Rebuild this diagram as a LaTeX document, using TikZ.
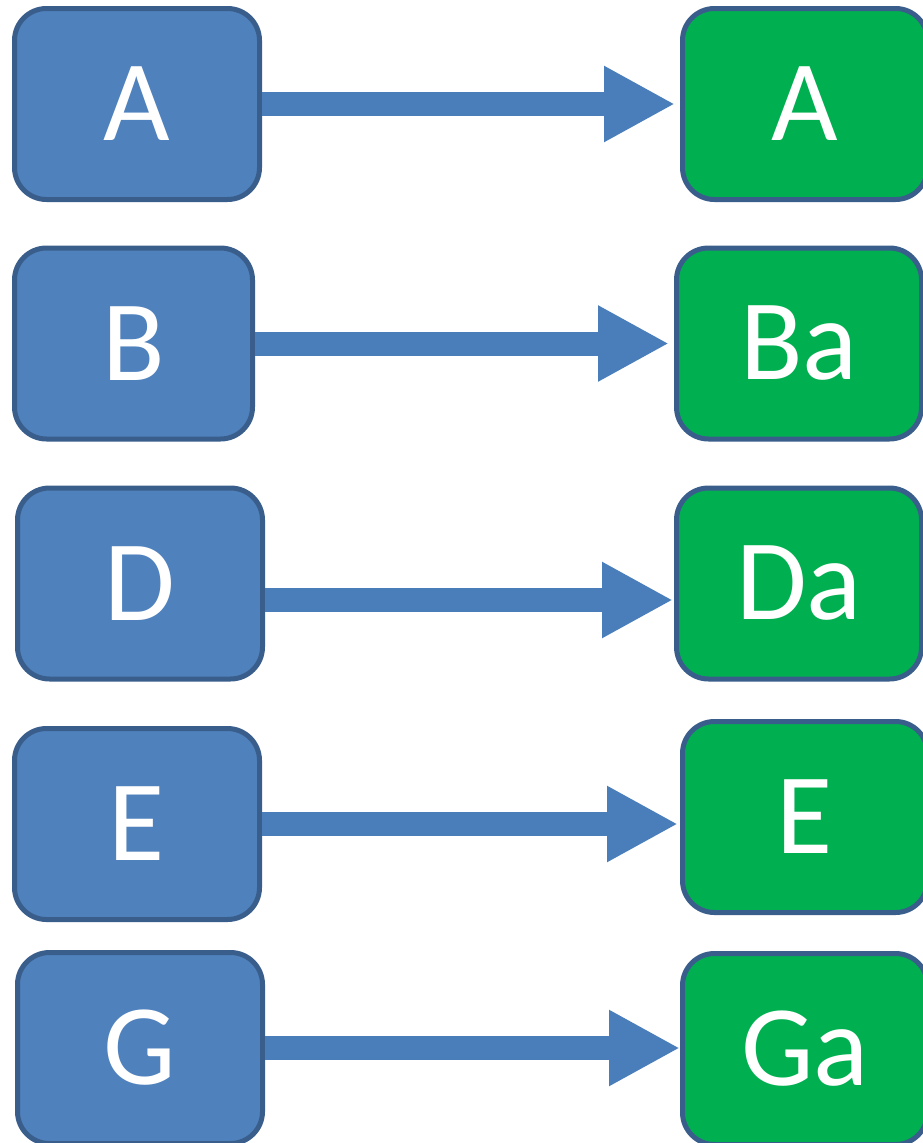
\documentclass[tikz,border=0pt]{standalone}
\usepackage{fontspec}
\setmainfont{Carlito}
\usetikzlibrary{arrows.meta,positioning}

\definecolor{boxblue}{HTML}{4F81BD}
\definecolor{boxline}{HTML}{3A5E8C}
\definecolor{boxgreen}{HTML}{00B050}
\definecolor{arrowblue}{HTML}{4A7EBB}

\begin{document}
\begin{tikzpicture}[x=1pt,y=-1pt]
		\tikzstyle{word}=[rectangle, rounded corners=32pt, draw=boxline, line width=5pt, minimum width=245pt, minimum height=191pt, inner sep=0pt, text=white, font=\fontsize{115}{138}\selectfont]
		\tikzstyle{oldbox}=[word, fill=boxblue]
		\tikzstyle{newbox}=[word, fill=boxgreen]
		\tikzstyle{bigarrow}=[draw=arrowblue, fill=arrowblue, line width=24pt, -{Triangle[length=71pt,width=71pt]}]
		\path[use as bounding box, fill=white] (0,0) rectangle (922,1143);
		% words before
		\node[oldbox] (l1) at (137,104) {A};
		\node[oldbox, minimum width=238pt] (l2) at (133.5,343.5) {B};
		\node[oldbox] (l3) at (140,583.5) {D};
		\node[oldbox] (l4) at (137,824) {E};
		\node[oldbox] (l5) at (140,1048) {G};
		% words after
		\node[newbox] (r1) at (805,104) {A};
		\node[newbox] (r2) at (799,343.5) {Ba};
		\node[newbox] (r3) at (799,583.5) {Da};
		\node[newbox] (r4) at (805,817) {E};
		\node[newbox] (r5) at (805,1049) {Ga};
		\coordinate (d) at ([yshift=-16.5pt]l3.east);
		\draw[bigarrow, shorten >=5pt] (l1.east) -- (l1.east -| r1.west);
		\draw[bigarrow, shorten >=5pt] (l2.east) -- (l2.east -| r2.west);
		\draw[bigarrow, shorten >=1pt] (d) -- (d -| r3.west);
		\draw[bigarrow, shorten >=2pt] (l4.east) -- (l4.east -| r4.west);
		\draw[bigarrow] (l5.east) -- (l5.east -| r5.west);
	\end{tikzpicture}
\end{document}
